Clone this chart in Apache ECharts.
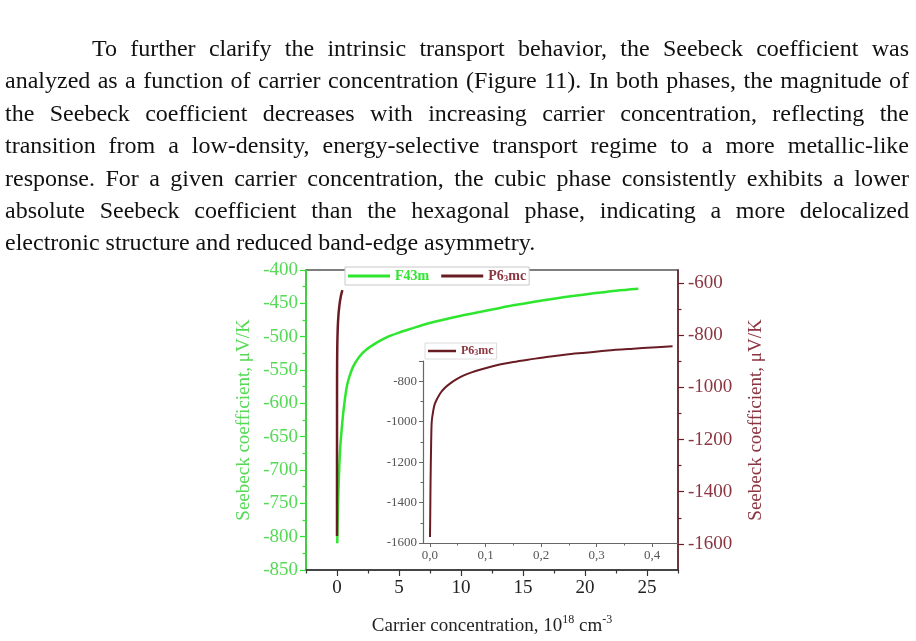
<!DOCTYPE html>
<html>
<head>
<meta charset="utf-8">
<script src="https://cdn.jsdelivr.net/npm/echarts@6/dist/echarts.min.js"></script>
<style>
  html, body { margin: 0; padding: 0; background: #fff; }
  #page { position: relative; width: 916px; height: 641px; overflow: hidden; }
  #chart { position: absolute; left: 0; top: 0; width: 916px; height: 641px; }
  #text { position: absolute; left: 5px; top: 32px; width: 904px;
          font-family: "Liberation Serif", serif; font-size: 24px; line-height: 32.4px; color: #111; }
  #text div { text-align: justify; text-align-last: justify; }
  #text div.first { padding-left: 87px; }
  #text div.last { text-align: left; text-align-last: left; }
</style>
</head>
<body>
<div id="page">
  <div id="chart"></div>
  <div id="text">
    <div class="first">To further clarify the intrinsic transport behavior, the Seebeck coefficient was</div>
    <div>analyzed as a function of carrier concentration (Figure 11). In both phases, the magnitude of</div>
    <div>the Seebeck coefficient decreases with increasing carrier concentration, reflecting the</div>
    <div>transition from a low-density, energy-selective transport regime to a more metallic-like</div>
    <div>response. For a given carrier concentration, the cubic phase consistently exhibits a lower</div>
    <div>absolute Seebeck coefficient than the hexagonal phase, indicating a more delocalized</div>
    <div class="last">electronic structure and reduced band-edge asymmetry.</div>
  </div>
</div>
<script>
// carrier concentration in 10^18 cm^-3, Seebeck in uV/K
var cubicX = [0.02, 0.05, 0.1, 0.17, 0.24, 0.35, 0.5, 0.65, 0.8, 1.0, 1.3, 1.8, 2.4, 3.2, 4.0, 5.0, 6.0, 7.2, 8.5, 9.9, 11.2, 12.6, 14.2, 15.8, 17.5, 19.0, 20.7, 22.5, 24.3];
var cubicS = [-810, -780, -742, -702, -672, -645, -615, -592, -574, -560, -545, -530, -519, -509, -501, -494, -488, -481, -475, -469, -464, -459, -453, -448, -443, -439, -435, -431, -428];

var hexX = [0, 0.0005, 0.001, 0.002, 0.003, 0.005, 0.009, 0.018, 0.026, 0.036, 0.048, 0.06, 0.075, 0.09, 0.12, 0.15, 0.18, 0.21, 0.246, 0.28, 0.32, 0.366, 0.40, 0.437];
var hexS = [-1570, -1450, -1300, -1120, -1005, -960, -910, -862, -835, -812, -790, -772, -756, -743, -721, -705, -692, -680, -668, -659, -648, -639, -633, -627];

var xTicks = [0, 5, 10, 15, 20, 25];
var xMinorTicks = [-2.5, 2.5, 7.5, 12.5, 17.5, 22.5, 27.5];
var rightTicks = [-1600, -1400, -1200, -1000, -800, -600];
var rightMinorTicks = [-1500, -1300, -1100, -900, -700];
var insetXTicks = [0, 0.1, 0.2, 0.3, 0.4];
var insetXMinorTicks = [0.05, 0.15, 0.25, 0.35];

var cubicData = cubicX.map(function (x, i) { return [x, cubicS[i]]; });
var hexData = hexX.map(function (x, i) { return [x, hexS[i]]; });

var serif = '"Liberation Serif", "Times New Roman", serif';
var green = '#2fe62f';
var greenText = '#55da55';
var brown = '#6a1c24';
var brownText = '#8a3540';
var dark = '#333';

var dom = document.getElementById('chart');
var myChart = echarts.init(dom);

function legendName(name) {
  return name === 'F43m' ? 'F43m' : 'P6{sub|3}mc';
}
function plain(v) {
  return String(v);
}

var option = {
  animation: false,
  backgroundColor: 'transparent',
  grid: [
    { left: 306, top: 270, width: 372, height: 300, show: true, borderColor: '#555', borderWidth: 1.5, backgroundColor: 'transparent' },
    { left: 423, top: 361, width: 255, height: 182, show: false }
  ],
  legend: [
    {
      left: 345, top: 267,
      data: [
        { name: 'F43m', textStyle: { color: green } },
        { name: 'P63mc', textStyle: { color: brownText } }
      ],
      icon: 'rect', itemWidth: 42, itemHeight: 3, itemGap: 12,
      padding: [2, 3, 2, 3],
      borderColor: '#c8c8c8', borderWidth: 1, backgroundColor: '#fff',
      formatter: legendName,
      textStyle: {
        fontFamily: serif, fontSize: 14, fontWeight: 'bold',
        rich: { sub: { fontFamily: serif, fontSize: 9, fontWeight: 'bold', color: brownText, verticalAlign: 'bottom', padding: [5, 0, 0, 0] } }
      }
    },
    {
      left: 425, top: 343,
      data: [{ name: 'P63mc', textStyle: { color: brownText } }],
      icon: 'rect', itemWidth: 28, itemHeight: 2.5, itemGap: 5,
      padding: [2, 3, 2, 3],
      borderColor: '#dcdcdc', borderWidth: 1, backgroundColor: '#fff',
      formatter: legendName,
      textStyle: {
        fontFamily: serif, fontSize: 12, fontWeight: 'bold',
        rich: { sub: { fontFamily: serif, fontSize: 8, fontWeight: 'bold', color: brownText, verticalAlign: 'bottom', padding: [4, 0, 0, 0] } }
      }
    }
  ],
  xAxis: [
    {
      gridIndex: 0, type: 'value', min: -2.5, max: 27.5, position: 'bottom',
      axisLine: { onZero: false, lineStyle: { color: dark, width: 1.5 } },
      axisTick: { customValues: xTicks, length: 6, lineStyle: { color: dark, width: 1.2 } },
      axisLabel: { customValues: xTicks, fontFamily: serif, fontSize: 19, color: '#222', margin: 9, formatter: plain },
      splitLine: { show: false },
      name: 'Carrier concentration, 10{sup|18} cm{sup|-3}',
      nameLocation: 'middle', nameGap: 44,
      nameTextStyle: {
        fontFamily: serif, fontSize: 19, color: '#222', lineHeight: 24,
        rich: { sup: { fontFamily: serif, fontSize: 12, color: '#222', verticalAlign: 'top', lineHeight: 12 } }
      }
    },
    {
      gridIndex: 0, type: 'value', min: -2.5, max: 27.5, position: 'bottom',
      axisLine: { show: false, onZero: false },
      axisTick: { customValues: xMinorTicks, length: 3.5, lineStyle: { color: dark, width: 1.2 } },
      axisLabel: { show: false },
      splitLine: { show: false }
    },
    {
      gridIndex: 1, type: 'value', min: -0.0126, max: 0.4468, position: 'bottom',
      axisLine: { onZero: false, lineStyle: { color: '#666', width: 1.2 } },
      axisTick: { customValues: insetXTicks, length: 4, lineStyle: { color: '#666' } },
      axisLabel: {
        customValues: insetXTicks, fontFamily: serif, fontSize: 13, color: '#555', margin: 6,
        formatter: function (v) { return v.toFixed(1).replace('.', ','); }
      },
      splitLine: { show: false }
    },
    {
      gridIndex: 1, type: 'value', min: -0.0126, max: 0.4468, position: 'bottom',
      axisLine: { show: false, onZero: false },
      axisTick: { customValues: insetXMinorTicks, length: 2.5, lineStyle: { color: '#666' } },
      axisLabel: { show: false },
      splitLine: { show: false }
    }
  ],
  yAxis: [
    {
      gridIndex: 0, type: 'value', position: 'left', min: -850, max: -400, interval: 50,
      axisLine: { show: true, onZero: false, lineStyle: { color: green, width: 1.5 } },
      axisTick: { show: true, length: 6, lineStyle: { color: green, width: 1.2 } },
      minorTick: { show: true, splitNumber: 2, length: 3.5, lineStyle: { color: green, width: 1.2 } },
      axisLabel: { fontFamily: serif, fontSize: 19, color: greenText, margin: 8, formatter: plain },
      splitLine: { show: false },
      name: 'Seebeck coefficient, μV/K',
      nameLocation: 'middle', nameRotate: 90, nameGap: 52,
      nameTextStyle: { fontFamily: serif, fontSize: 19, color: greenText }
    },
    {
      gridIndex: 0, type: 'value', position: 'right', min: -1700, max: -550,
      axisLine: { show: true, onZero: false, lineStyle: { color: brown, width: 1.5 } },
      axisTick: { show: true, customValues: rightTicks, length: 6, lineStyle: { color: brown, width: 1.2 } },
      axisLabel: { customValues: rightTicks, fontFamily: serif, fontSize: 19, color: brownText, margin: 10, formatter: plain },
      splitLine: { show: false },
      name: 'Seebeck coefficient, μV/K',
      nameLocation: 'middle', nameRotate: 90, nameGap: 69,
      nameTextStyle: { fontFamily: serif, fontSize: 19, color: brownText }
    },
    {
      gridIndex: 0, type: 'value', position: 'right', min: -1700, max: -550,
      axisLine: { show: false, onZero: false },
      axisTick: { show: true, customValues: rightMinorTicks, length: 3.5, lineStyle: { color: brown, width: 1.2 } },
      axisLabel: { show: false },
      splitLine: { show: false }
    },
    {
      gridIndex: 1, type: 'value', position: 'left', min: -1600, max: -700, interval: 200,
      axisLine: { show: true, onZero: false, lineStyle: { color: '#666', width: 1.2 } },
      axisTick: { show: true, length: 4, lineStyle: { color: '#666' } },
      minorTick: { show: true, splitNumber: 2, length: 2.5, lineStyle: { color: '#666' } },
      axisLabel: { fontFamily: serif, fontSize: 13, color: '#555', margin: 6, showMaxLabel: false, formatter: plain },
      splitLine: { show: false }
    }
  ],
  series: [
    {
      name: 'F43m', type: 'line', xAxisIndex: 0, yAxisIndex: 0,
      data: cubicData, showSymbol: false, smooth: 0.3,
      itemStyle: { color: green }, lineStyle: { color: green, width: 2.5 }
    },
    {
      name: 'P63mc', type: 'line', xAxisIndex: 0, yAxisIndex: 1,
      data: hexData, showSymbol: false, smooth: 0.3,
      itemStyle: { color: brown }, lineStyle: { color: brown, width: 2.5 }
    },
    {
      name: 'P63mc', type: 'line', xAxisIndex: 2, yAxisIndex: 3,
      data: hexData, showSymbol: false, smooth: 0.3, clip: false,
      itemStyle: { color: brown }, lineStyle: { color: brown, width: 2 }
    }
  ]
};

if (option && typeof option === 'object') {
  myChart.setOption(option);
}

window.onresize = function () {
  myChart.resize();
};
</script>
</body>
</html>
